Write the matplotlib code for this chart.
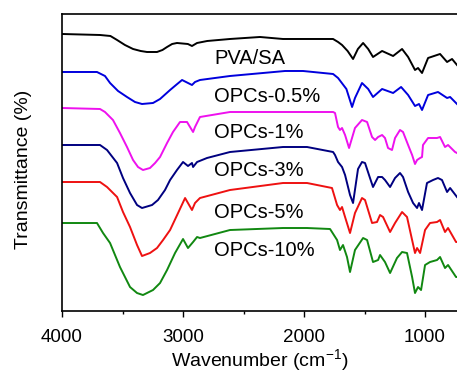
import matplotlib
matplotlib.use("Agg")
import matplotlib.pyplot as plt
from matplotlib.ticker import MultipleLocator

plt.rcParams['font.family'] = ['Liberation Sans', 'DejaVu Sans']
plt.rcParams['mathtext.fontset'] = 'custom'
plt.rcParams['mathtext.rm'] = 'Liberation Sans'
plt.rcParams['mathtext.it'] = 'Liberation Sans:italic'

# ---------------------------------------------------------------------------
# FTIR spectra (wavenumber in cm-1, transmittance in a.u.,
# curves already stacked with their vertical offsets)
# ---------------------------------------------------------------------------
wn_pva = [4000, 3686, 3600, 3545, 3480, 3413, 3350, 3298, 3215, 3170, 3132,
          3090, 3050, 2960, 2926, 2884, 2800, 2612, 2364, 2174, 1760, 1719,
          1686, 1640, 1595, 1555, 1512, 1470, 1430, 1355, 1264, 1190, 1140,
          1083, 1058, 1025, 975, 876, 818, 777, 736]
t_pva = [277, 276, 275, 271, 266, 262, 260, 259, 259, 261, 264,
         267, 268, 267, 265, 268, 270, 272, 274, 272, 272, 269,
         266, 260, 252, 262, 268, 262, 254, 260, 255, 262, 254,
         241, 243, 238, 253, 257, 249, 252, 246]

wn_05 = [4000, 3711, 3645, 3603, 3537, 3463, 3397, 3339, 3248, 3190, 3107,
         3058, 3008, 2926, 2901, 2860, 2612, 2157, 2008, 1760, 1719, 1650,
         1603, 1579, 1521, 1470, 1430, 1355, 1264, 1198, 1140, 1083, 1050,
         1025, 975, 893, 818, 793, 736]
t_05 = [239, 239, 235, 228, 220, 214, 209, 207, 208, 212, 221,
        226, 231, 226, 229, 231, 235, 240, 240, 237, 233, 222,
        204, 213, 228, 222, 214, 222, 218, 224, 216, 205, 207,
        201, 216, 219, 213, 214, 207]

wn_1 = [4000, 3686, 3645, 3579, 3521, 3463, 3413, 3372, 3331, 3273, 3231,
        3190, 3132, 3083, 3025, 2967, 2917, 2901, 2860, 2612, 1760, 1744,
        1719, 1703, 1686, 1661, 1628, 1579, 1521, 1479, 1438, 1413, 1388,
        1355, 1331, 1306, 1273, 1248, 1207, 1182, 1140, 1107, 1083, 1066,
        1041, 1025, 1017, 975, 901, 876, 835, 810, 752, 736]
t_1 = [203, 202, 199, 191, 178, 164, 151, 144, 141, 143, 148,
       154, 168, 179, 189, 189, 179, 184, 194, 199, 199, 198,
       184, 181, 183, 176, 163, 183, 191, 189, 174, 171, 174,
       176, 173, 163, 161, 173, 181, 179, 166, 156, 147, 151,
       153, 154, 166, 173, 173, 174, 164, 166, 159, 158]

wn_3 = [4000, 3686, 3628, 3545, 3496, 3438, 3380, 3339, 3256, 3207, 3149,
        3107, 3050, 3000, 2959, 2926, 2917, 2884, 2802, 2612, 2174, 1975,
        1760, 1744, 1719, 1686, 1661, 1620, 1595, 1554, 1521, 1496, 1455,
        1430, 1388, 1355, 1331, 1289, 1248, 1207, 1182, 1140, 1099, 1066,
        1050, 1025, 984, 934, 893, 860, 818, 793, 736]
t_3 = [166, 166, 161, 148, 133, 118, 106, 103, 106, 111, 121,
       131, 141, 149, 145, 148, 144, 149, 153, 159, 164, 164,
       159, 156, 149, 144, 136, 116, 108, 142, 149, 148, 133,
       124, 134, 134, 131, 124, 133, 138, 134, 119, 108, 103,
       108, 101, 128, 131, 133, 131, 119, 123, 114]

wn_5 = [4000, 3686, 3628, 3545, 3496, 3438, 3380, 3339, 3273, 3215, 3165,
        3107, 3041, 2983, 2926, 2901, 2860, 2612, 2174, 1975, 1769, 1727,
        1703, 1686, 1661, 1620, 1579, 1521, 1496, 1438, 1397, 1372, 1347,
        1289, 1248, 1190, 1149, 1107, 1083, 1066, 1041, 1000, 959, 901,
        876, 835, 810, 744, 736]
t_5 = [129, 129, 124, 114, 99, 84, 66, 55, 58, 63, 71,
       81, 98, 113, 101, 108, 113, 121, 128, 128, 123, 106,
       101, 104, 94, 78, 98, 113, 111, 88, 89, 96, 94,
       79, 88, 99, 94, 71, 58, 63, 58, 81, 88, 89,
       91, 79, 83, 69, 69]

wn_10 = [4000, 3711, 3661, 3603, 3521, 3438, 3380, 3331, 3248, 3190, 3132,
         3066, 3000, 2959, 2917, 2884, 2860, 2612, 2174, 1975, 1785, 1727,
         1703, 1678, 1645, 1620, 1579, 1512, 1479, 1430, 1388, 1372, 1331,
         1289, 1232, 1190, 1149, 1107, 1083, 1058, 1033, 1000, 959, 901,
         876, 835, 810, 744, 736]
t_10 = [88, 88, 78, 68, 44, 24, 18, 16, 21, 28, 41,
        58, 72, 63, 69, 74, 73, 81, 83, 83, 82, 71,
        61, 66, 54, 39, 61, 73, 71, 49, 51, 56, 49,
        38, 53, 59, 58, 34, 18, 24, 21, 46, 49, 51,
        54, 43, 46, 34, 34]

labels = ["PVA/SA", "OPCs-0.5%", "OPCs-1%", "OPCs-3%", "OPCs-5%", "OPCs-10%"]
label_y = [252, 214, 178, 141, 99, 61]
colors = ["black", "#0000dd", "#ee11ee", "#000080", "#ee1111", "#118811"]

spectra = [(wn_pva, t_pva), (wn_05, t_05), (wn_1, t_1),
           (wn_3, t_3), (wn_5, t_5), (wn_10, t_10)]

# ---------------------------------------------------------------------------
# Plot
# ---------------------------------------------------------------------------
fig = plt.figure(figsize=(4.57, 3.74), dpi=100)
ax = fig.add_axes([0.1357, 0.1684, 1.0 - 0.1357, 0.9626 - 0.1684])

for (wn, t), c in zip(spectra, colors):
    ax.plot(wn, t, color=c, lw=1.4, solid_joinstyle='round')

for name, y in zip(labels, label_y):
    ax.text(2745, y, name, ha='left', va='center', fontsize=14.5)

ax.set_xlim(4000, 736)
ax.set_ylim(0, 297)
ax.xaxis.set_major_locator(MultipleLocator(1000))
ax.xaxis.set_minor_locator(MultipleLocator(500))
ax.tick_params(axis='x', which='major', direction='out', length=4, width=1,
               labelsize=13.5, pad=9)
ax.tick_params(axis='x', which='minor', direction='out', length=2.5, width=1)
ax.set_yticks([])
ax.spines['right'].set_visible(False)
for s in ['left', 'bottom', 'top']:
    ax.spines[s].set_linewidth(1.2)

ax.set_xlabel("Wavenumber (cm$^{-1}$)", fontsize=14, labelpad=1)
ax.set_ylabel("Transmittance (%)", fontsize=14)
ax.yaxis.set_label_coords(-0.075, 0.478)

fig.savefig("out.png", dpi=100)
